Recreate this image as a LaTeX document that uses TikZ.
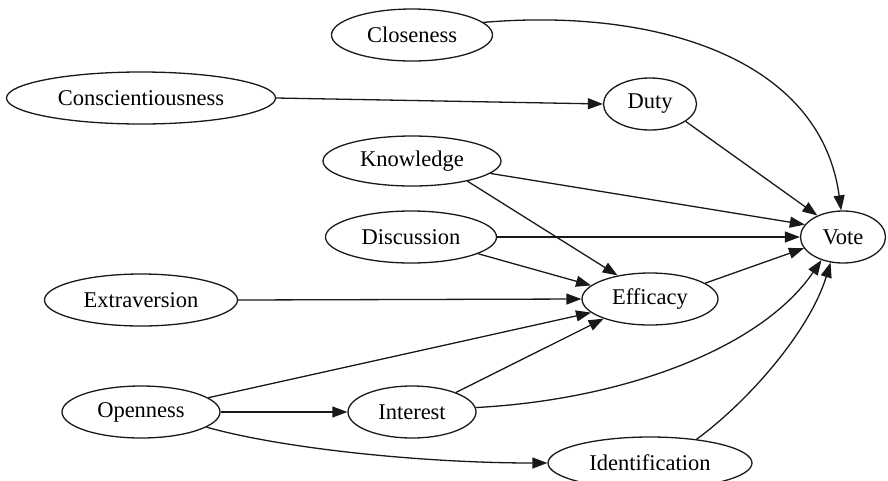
\documentclass[tikz,border=0pt]{standalone}
\usepackage{fontspec}
\setmainfont{Liberation Serif}
\usetikzlibrary{arrows.meta,shapes.geometric}
\begin{document}
\begin{tikzpicture}[x=1pt,y=-1pt,
  var/.style={ellipse, draw=black!90, line width=1.3pt, inner sep=0pt, minimum height=52pt, font=\fontsize{22.5}{27}\selectfont},
  edge/.style={draw=black!90, line width=1.3pt, -{Triangle[length=15pt,width=11pt]}}]
\clip (0,0) rectangle (888,480);
\node[var, minimum width=161pt] (clos) at (412,35) {Closeness};
\node[var, minimum width=269pt] (consc) at (141,98) {Conscientiousness};
\node[var, minimum width=93pt] (duty) at (650,104) {Duty};
\node[var, minimum width=178pt, minimum height=50pt] (know) at (412,161) {Knowledge};
\node[var, minimum width=171pt] (disc) at (411,237) {Discussion};
\node[var, minimum width=85pt] (vote) at (843,237) {Vote};
\node[var, minimum width=193pt] (extra) at (141,300) {Extraversion};
\node[var, minimum width=136pt] (eff) at (650,299) {Efficacy};
\node[var, minimum width=158pt] (open) at (141,412) {Openness};
\node[var, minimum width=128pt] (int) at (412,412) {Interest};
\node[var, minimum width=204pt] (ident) at (650,463) {Identification};

\draw[edge] (clos.10) .. controls (650,8) and (820,55) .. (vote.94);
\draw[edge] (consc.east) -- (duty.west);
\draw[edge] (duty.-26) -- (vote.140);
\draw[edge] (know.-9) -- (vote.162);
\draw[edge] (know.-20) -- (eff.144);
\draw[edge] (disc.east) -- (vote.west);
\draw[edge] (disc.-14) -- (eff.167);
\draw[edge] (eff.16) -- (vote.196);
\draw[edge] (extra.east) -- (eff.west);
\draw[edge] (open.12) -- (eff.193);
\draw[edge] (int.24) -- (eff.203);
\draw[edge] (int.4) .. controls (620,400) and (760,350) .. (vote.227);
\draw[edge] (open.east) -- (int.west);
\draw[edge] (open.-13) .. controls (280,448) and (420,463) .. (ident.west);
\draw[edge] (ident.27) .. controls (750,400) and (810,330) .. (vote.244);
\end{tikzpicture}
\end{document}
